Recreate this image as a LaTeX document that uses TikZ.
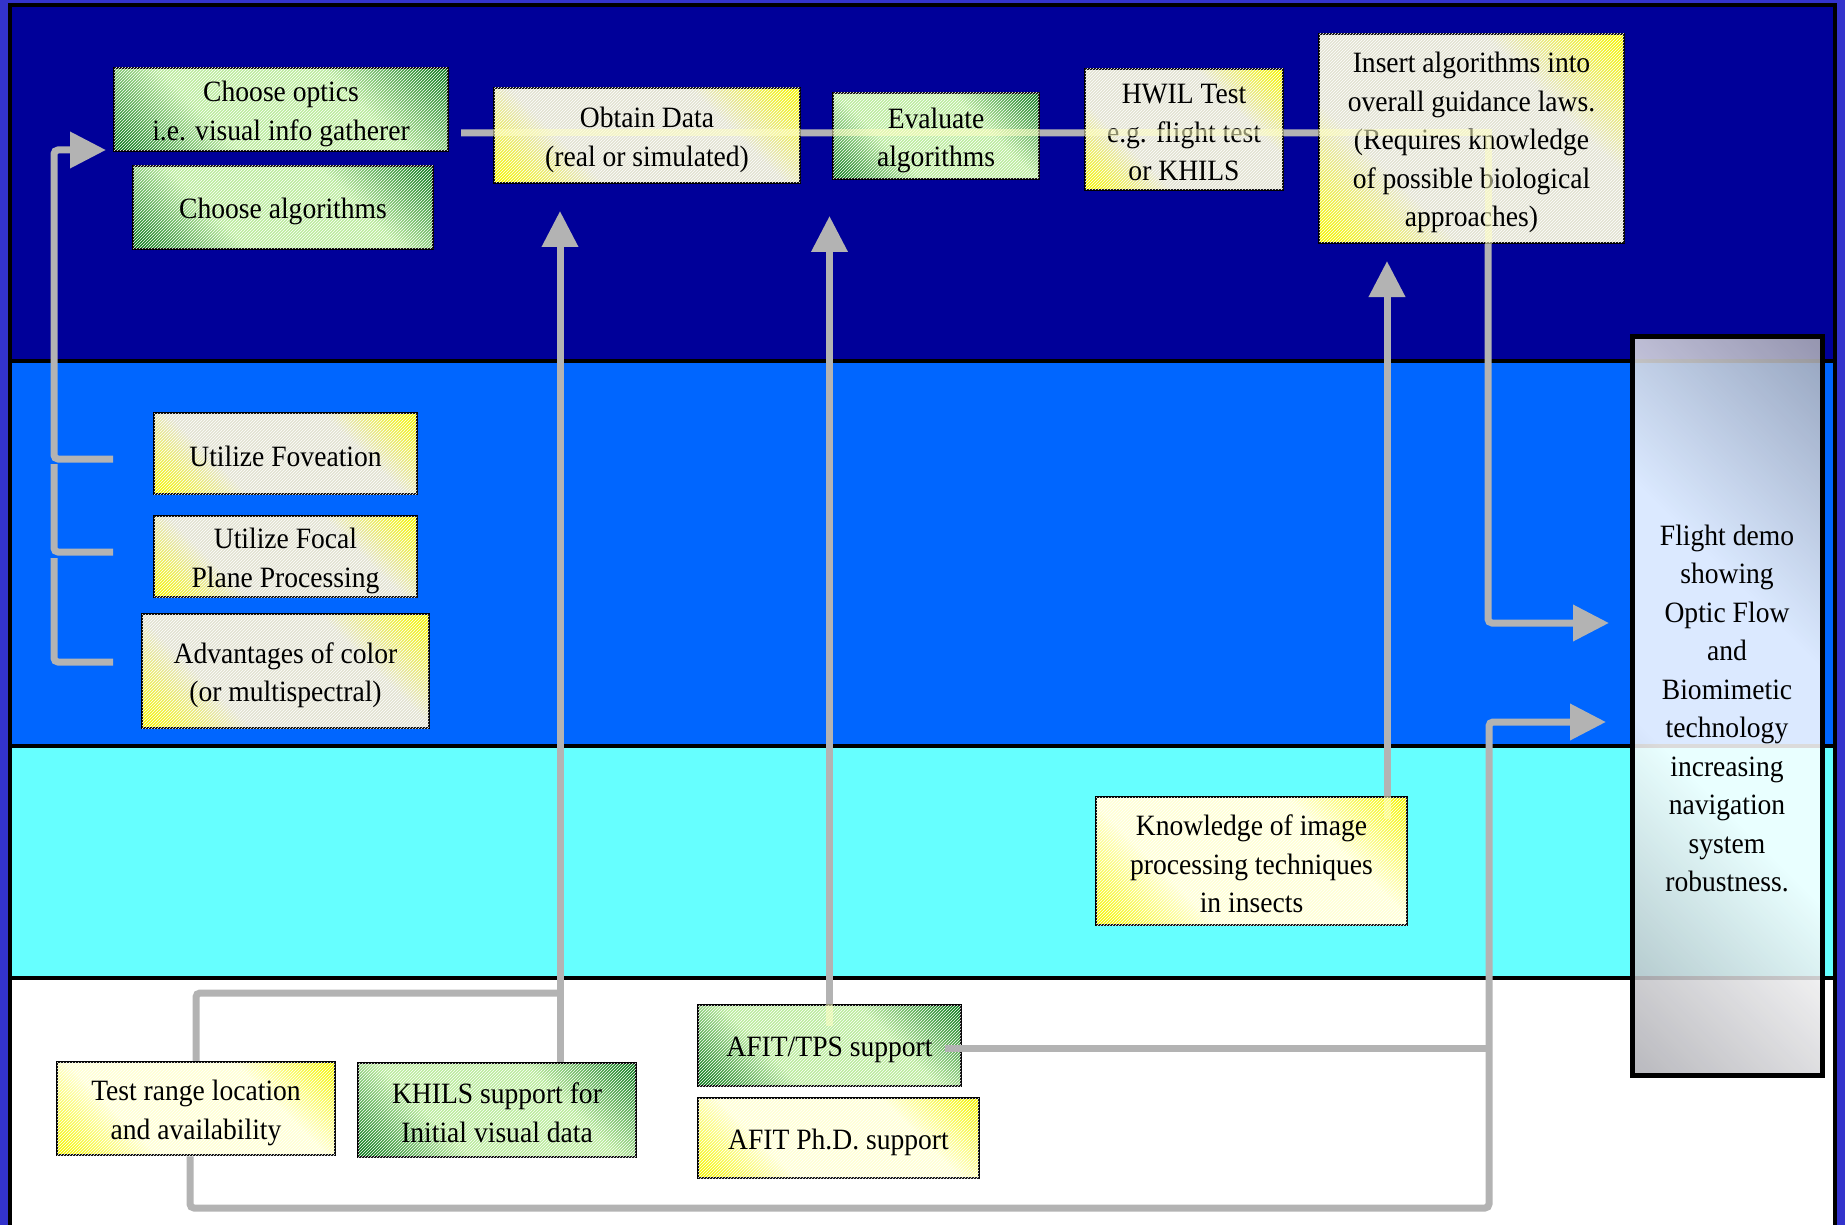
\documentclass[tikz,border=0pt]{standalone}
\usepackage{fontspec}
\setmainfont{Liberation Serif}[FakeStretch=0.935]
\usetikzlibrary{arrows.meta,patterns,calc}

\definecolor{frame}{RGB}{51,51,204}
\definecolor{bandA}{RGB}{0,0,153}
\definecolor{bandB}{RGB}{0,102,255}
\definecolor{bandC}{RGB}{102,255,255}
\definecolor{conn}{RGB}{179,179,179}
\definecolor{dkgreen}{RGB}{15,125,30}
\definecolor{ltgreen}{RGB}{188,236,158}
\definecolor{yel}{RGB}{245,245,0}
\definecolor{ltyelA}{RGB}{226,226,210}
\definecolor{ltyelB}{RGB}{255,255,212}
\definecolor{hilite}{RGB}{255,255,195}
\definecolor{flgray}{RGB}{172,172,178}

\pgfdeclareverticalshading{grsh}{100bp}{color(0bp)=(dkgreen); color(16bp)=(dkgreen); color(36bp)=(ltgreen); color(64bp)=(ltgreen); color(84bp)=(dkgreen); color(100bp)=(dkgreen)}
\pgfdeclareverticalshading{yAsh}{100bp}{color(0bp)=(yel); color(16bp)=(yel); color(34bp)=(ltyelA); color(66bp)=(ltyelA); color(84bp)=(yel); color(100bp)=(yel)}
\pgfdeclareverticalshading{yBsh}{100bp}{color(0bp)=(yel); color(16bp)=(yel); color(34bp)=(ltyelB); color(66bp)=(ltyelB); color(84bp)=(yel); color(100bp)=(yel)}
\pgfdeclareverticalshading{flsh}{100bp}{color(0bp)=(flgray); color(14bp)=(flgray); color(42bp)=(white); color(60bp)=(white); color(86bp)=(flgray); color(100bp)=(flgray)}

\newcommand{\tb}{\rule{0pt}{29pt}}
\newcommand{\bb}{\rule[-3pt]{0pt}{3pt}}

\tikzset{
  txt/.style={align=center, inner sep=0pt, font=\fontsize{29.5}{38.5}\selectfont, text=black},
  box/.style={txt, draw=black, line width=2.5pt},
  hatch/.style={postaction={pattern=north east lines, pattern color=white, fill opacity=0.22}},
  greenbox/.style={box, shade, shading=grsh, shading angle=-45, hatch},
  yelboxA/.style={box, shade, shading=yAsh, shading angle=-45, hatch},
  yelboxB/.style={box, shade, shading=yBsh, shading angle=-45, hatch},
  conn/.style={draw=conn, line width=7pt, rounded corners=4pt},
  tip/.style={-{Triangle[length=36pt,width=35pt]}},
  hl/.style={draw=hilite, line width=7pt, opacity=0.55},
  bandline/.style={draw=black, line width=3.5pt}
}

\begin{document}
\begin{tikzpicture}[x=1pt,y=-1pt]
\useasboundingbox (0,0) rectangle (1845,1225);
% background bands
\fill[frame] (0,0) rectangle (1845,1225);
\filldraw[fill=bandA, bandline] (10,5) rectangle (1835,361);
\filldraw[fill=bandB, bandline] (10,361) rectangle (1835,746);
\filldraw[fill=bandC, bandline] (10,746) rectangle (1835,978);
\filldraw[fill=white, bandline] (10,978) rectangle (1835,1240);

% coordinates for connector corners and free ends
\coordinate (t0) at (461,133);
\coordinate (t1) at (1488,133);
\coordinate (t2) at (1488,623);
\coordinate (t3) at (1609,623);
\coordinate (l0) at (54,150);
\coordinate (l1) at (106,150);
\coordinate (s1) at (113,459);
\coordinate (s2) at (113,552);
\coordinate (s3) at (113,662);
\coordinate (g2) at (54,464);
\coordinate (g3) at (54,558);
\coordinate (a1) at (560,211);
\coordinate (j1) at (560,993);
\coordinate (a2) at (829,216);
\coordinate (a3) at (1387,261);
\coordinate (b1) at (190,1208);
\coordinate (b2) at (1489,1208);
\coordinate (b3) at (1489,722);
\coordinate (b4) at (1606,722);

% connectors (under boxes)
\draw[conn, tip] (t0) -- (t1) -- (t2) -- (t3);
\draw[conn, tip] (s1) -| (l0) -- (l1);
\draw[conn] (s2) -| (g2);
\draw[conn] (s3) -| (g3);

% boxes
\node[greenbox, minimum width=334pt, minimum height=83pt] (optics) at (281,109.5) {\tb Choose optics\\i.e. visual info gatherer\bb};
\node[greenbox, minimum width=300pt, minimum height=83pt] (algos) at (283,207.5) {\tb Choose algorithms\bb};
\node[yelboxA, minimum width=306pt, minimum height=95pt] (obtain) at (647,135.5) {\tb Obtain Data\\(real or simulated)\bb};
\node[greenbox, minimum width=206pt, minimum height=86pt] (evaluate) at (936,136) {\tb Evaluate\\algorithms\bb};
\node[yelboxA, minimum width=198pt, minimum height=121pt] (hwil) at (1184,129.5) {\tb HWIL Test\\e.g. flight test\\or KHILS\bb};
\node[yelboxA, minimum width=305pt, minimum height=209pt] (insert) at (1471.5,138.5) {\tb Insert algorithms into\\overall guidance laws.\\(Requires knowledge\\of possible biological\\approaches)\bb};
\node[yelboxA, minimum width=263pt, minimum height=81pt] (fov) at (285.5,453.5) {\tb Utilize Foveation\bb};
\node[yelboxA, minimum width=263pt, minimum height=81pt] (focal) at (285.5,556.5) {\tb Utilize Focal\\Plane Processing\bb};
\node[yelboxA, minimum width=287pt, minimum height=114pt] (adv) at (285.5,671) {\tb Advantages of color\\(or multispectral)\bb};
\node[yelboxB, minimum width=311pt, minimum height=128pt] (know) at (1251.5,861) {\tb Knowledge of image\\processing techniques\\in insects\bb};
\node[yelboxB, minimum width=278pt, minimum height=93pt] (testrange) at (196,1108.5) {\tb Test range location\\and availability\bb};
\node[greenbox, minimum width=278pt, minimum height=94pt] (khils) at (497,1110) {\tb KHILS support for\\Initial visual data\bb};
\node[greenbox, minimum width=263pt, minimum height=81pt] (afittps) at (829.5,1045.5) {\tb AFIT/TPS support\bb};
\node[yelboxB, minimum width=281pt, minimum height=80pt] (afitphd) at (838.5,1138) {\tb AFIT Ph.D. support\bb};
\node[txt, draw=black, line width=5pt, shade, shading=flsh, shading angle=-45,
      fill opacity=0.86, text opacity=1,
      minimum width=190pt, minimum height=739pt] (flight) at (1727,705.5)
      {\tb Flight demo\\showing\\Optic Flow\\and\\Biomimetic\\technology\\increasing\\navigation\\system\\robustness.\bb};

% connectors from the lower boxes
\draw[conn, tip] (a1 |- khils.north) -- (a1);
\draw[conn] (testrange.north) |- (j1);
\draw[conn, tip] (afittps.north) -- (afittps.north |- a2);
\draw[conn, tip] (a3 |- know.north) -- (a3);
\draw[conn, tip] (testrange.south -| b1) -- (b1) -- (b2) -- (b3) -- (b4);
\draw[conn] ($(afittps.east)+(-17,2.5)$) -- ($(afittps.east -| b2)+(0,2.5)$);

% light strips where the connectors run through boxes
\draw[hl] (obtain.west |- t0) -- (obtain.east |- t0);
\draw[hl] (evaluate.west |- t0) -- (evaluate.east |- t0);
\draw[hl] (hwil.west |- t0) -- (hwil.east |- t0);
\draw[hl] (insert.west |- t0) -- (t1) -- (t1 |- insert.south);
\draw[hl] (afittps.north) -- ++(0,22);
\draw[hl] (a3 |- know.north) -- ++(0,23);
\end{tikzpicture}
\end{document}
